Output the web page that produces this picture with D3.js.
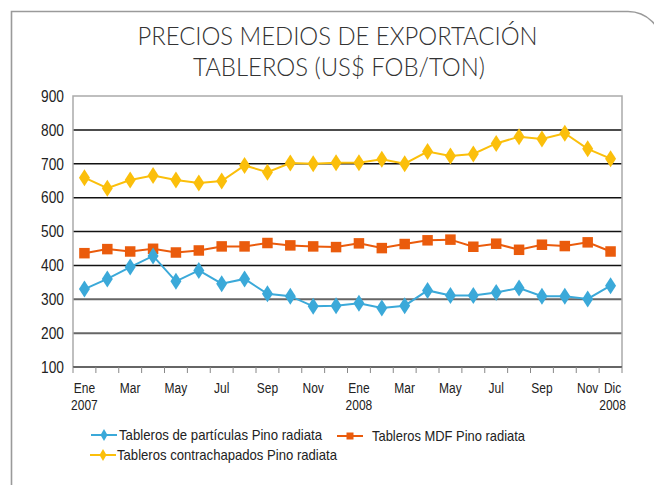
<!DOCTYPE html>
<html>
<head>
<meta charset="utf-8">
<script src="https://cdn.jsdelivr.net/npm/d3@7"></script>
<style>
  body { margin: 0; background: #fff; }
  svg { display: block; }
</style>
</head>
<body>
<div id="chart"></div>
<script>
// Months shown on the x axis (Ene 2007 .. Dic 2008)
const months = ["Ene 2007","Feb 2007","Mar 2007","Abr 2007","May 2007","Jun 2007","Jul 2007","Ago 2007","Sep 2007","Oct 2007","Nov 2007","Dic 2007",
                "Ene 2008","Feb 2008","Mar 2008","Abr 2008","May 2008","Jun 2008","Jul 2008","Ago 2008","Sep 2008","Oct 2008","Nov 2008","Dic 2008"];

// Which months get a label, and what it says (two lines)
const tickLabels = {
  "Ene 2007": ["Ene", "2007"], "Mar 2007": ["Mar"], "May 2007": ["May"], "Jul 2007": ["Jul"],
  "Sep 2007": ["Sep"], "Nov 2007": ["Nov"], "Ene 2008": ["Ene", "2008"], "Mar 2008": ["Mar"],
  "May 2008": ["May"], "Jul 2008": ["Jul"], "Sep 2008": ["Sep"], "Nov 2008": ["Nov"], "Dic 2008": ["Dic", "2008"]
};

const yTicks = [100, 200, 300, 400, 500, 600, 700, 800, 900];

// Series values (US$ FOB/ton)
const particulas = [330, 360, 395, 428, 353, 385, 346, 360, 316, 309, 279, 281,
                    288, 274, 281, 326, 311, 311, 320, 333, 309, 309, 301, 340];
const mdf = [436, 448, 441, 449, 438, 444, 456, 456, 466, 459, 456, 454,
             465, 451, 463, 474, 476, 455, 464, 446, 461, 457, 468, 441];
const contrachapados = [659, 628, 652, 665, 652, 643, 649, 695, 675, 702, 700, 703,
                        703, 713, 700, 736, 723, 729, 760, 780, 773, 790, 744, 715];

const seriesNames = ["Tableros de partículas Pino radiata", "Tableros MDF Pino radiata", "Tableros contrachapados Pino radiata"];
const seriesColors = ["#3ba9d9", "#ea5b0c", "#fbbf0b"];
const seriesShapes = ["diamond", "square", "diamond"];

const series = [particulas, mdf, contrachapados].map((values, i) => ({
  name: seriesNames[i], color: seriesColors[i], shape: seriesShapes[i], values
}));

const width = 654, height = 485;
const font = "'Liberation Sans', Arial, sans-serif";
const squeeze = 0.8; // the reference uses a condensed face

const svg = d3.select("#chart").append("svg")
    .attr("width", width)
    .attr("height", height);

// outer frame with rounded top-right corner
svg.append("path")
    .attr("d", "M11.5,490 V11.5 H628 A 34 34 0 0 1 662 45")
    .attr("fill", "none")
    .attr("stroke", "#9a9a9a")
    .attr("stroke-width", 1.6);

// title
const title = svg.append("g")
    .attr("fill", "#333")
    .attr("font-family", "Lato, 'Open Sans', sans-serif")
    .attr("font-weight", 300)
    .attr("font-size", 26)
    .attr("text-anchor", "middle");
title.append("text").attr("x", 337.5).attr("y", 45)
    .attr("textLength", 400).attr("lengthAdjust", "spacingAndGlyphs")
    .text("PRECIOS MEDIOS DE EXPORTACIÓN");
title.append("text").attr("x", 339).attr("y", 76)
    .attr("textLength", 292).attr("lengthAdjust", "spacingAndGlyphs")
    .text("TABLEROS (US$ FOB/TON)");

const x = d3.scaleBand().domain(months).range([73, 622]);
const y = d3.scaleLinear().domain([100, 900]).range([367, 96]);
const cx = d => x(d) + x.bandwidth() / 2;

// grid lines
svg.append("g")
  .selectAll("line")
  .data(yTicks.filter(t => t > 100 && t < 900))
  .join("line")
    .attr("x1", 73).attr("x2", 622)
    .attr("y1", d => y(d)).attr("y2", d => y(d))
    .attr("stroke", d => d <= 300 ? "#666" : "#111")
    .attr("stroke-width", d => d <= 300 ? 2 : 1.5);

// plot border (left, top, right)
svg.append("path")
    .attr("d", `M73,${y(100)} V${y(900)} H622 V${y(100)}`)
    .attr("fill", "none")
    .attr("stroke", "#aaa")
    .attr("stroke-width", 1.5);

// y axis labels
svg.append("g")
    .attr("font-family", font)
    .attr("font-size", 16)
    .attr("fill", "#222")
    .attr("text-anchor", "end")
  .selectAll("text")
  .data(yTicks)
  .join("text")
    .attr("transform", d => `translate(64,${y(d)}) scale(0.86,1)`)
    .attr("dy", "0.36em")
    .text(d => d);

// x axis
const xAxis = svg.append("g");
xAxis.append("line")
    .attr("x1", 73).attr("x2", 622)
    .attr("y1", y(100)).attr("y2", y(100))
    .attr("stroke", "#666")
    .attr("stroke-width", 2);
xAxis.selectAll(".tick")
  .data(months.concat(["end"]))
  .join("line")
    .attr("class", "tick")
    .attr("x1", (d, i) => i < months.length ? x(d) : 622)
    .attr("x2", (d, i) => i < months.length ? x(d) : 622)
    .attr("y1", y(100)).attr("y2", y(100) + 6)
    .attr("stroke", "#888")
    .attr("stroke-width", 1);

const labels = xAxis.append("g")
    .attr("font-family", font)
    .attr("font-size", 15)
    .attr("fill", "#222")
    .attr("text-anchor", "middle")
  .selectAll("text")
  .data(months.filter(m => tickLabels[m]))
  .join("text")
    .attr("transform", d => `translate(${cx(d) + (d === "Dic 2008" ? 2 : 0)},393) scale(${squeeze},1)`);
labels.selectAll("tspan")
  .data(d => tickLabels[d])
  .join("tspan")
    .attr("x", 0)
    .attr("dy", (d, i) => i === 0 ? 0 : 17)
    .text(d => d);

// marker shapes
const diamond = (w, h) => `M0,${-h / 2} L${w / 2},0 L0,${h / 2} L${-w / 2},0 Z`;
const square = s => `M${-s / 2},${-s / 2} h${s} v${s} h${-s} Z`;
const markerPath = (shape, big) => shape === "diamond"
  ? (big ? diamond(11, 17) : diamond(7, 12))
  : (big ? square(10.5) : square(7));

const line = d3.line()
    .x((d, i) => cx(months[i]))
    .y(d => y(d));

// lines and markers
[series[1], series[0], series[2]].forEach(s => {
  const g = svg.append("g");
  g.append("path")
      .attr("d", line(s.values))
      .attr("fill", "none")
      .attr("stroke", s.color)
      .attr("stroke-width", 2);
  g.selectAll("path.m")
    .data(s.values)
    .join("path")
      .attr("class", "m")
      .attr("transform", (d, i) => `translate(${cx(months[i])},${y(d)})`)
      .attr("d", markerPath(s.shape, true))
      .attr("fill", s.color);
});

// legend
const legendPos = [
  { x: 91, y: 435, tx: 119, w: 203 },
  { x: 337, y: 436, tx: 372, w: 153 },
  { x: 90, y: 455, tx: 117, w: 220 }
];
const legend = svg.append("g")
  .selectAll("g")
  .data(series)
  .join("g")
    .attr("transform", (d, i) => `translate(${legendPos[i].x},${legendPos[i].y})`);
legend.append("line")
    .attr("x1", 0).attr("x2", 26)
    .attr("stroke", d => d.color)
    .attr("stroke-width", 2);
legend.append("path")
    .attr("transform", "translate(13,0)")
    .attr("d", d => markerPath(d.shape, false))
    .attr("fill", d => d.color);
legend.append("text")
    .attr("x", (d, i) => legendPos[i].tx - legendPos[i].x)
    .attr("dy", "0.36em")
    .attr("textLength", (d, i) => legendPos[i].w)
    .attr("lengthAdjust", "spacingAndGlyphs")
    .attr("font-family", font)
    .attr("font-size", 15)
    .attr("fill", "#222")
    .text(d => d.name);
</script>
</body>
</html>
